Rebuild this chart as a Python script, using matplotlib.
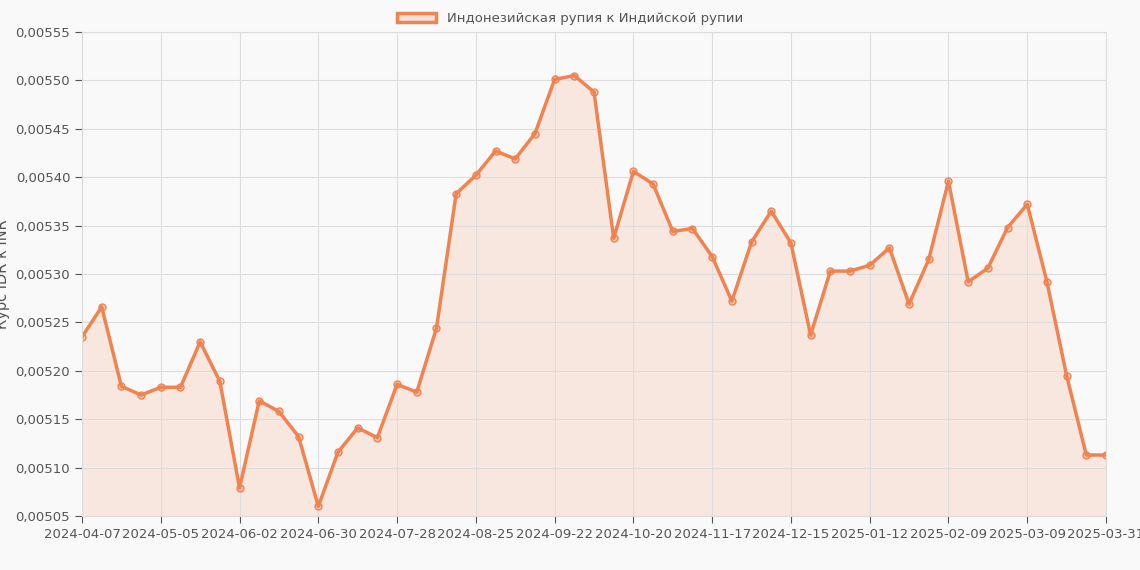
import matplotlib
matplotlib.use("Agg")
import matplotlib.pyplot as plt
from matplotlib.patches import Patch
from matplotlib.ticker import FuncFormatter, MultipleLocator

values = [0.005235, 0.005266, 0.005184, 0.005175, 0.005183, 0.005183, 0.005230, 0.005189,
          0.005079, 0.005169, 0.005158, 0.005132, 0.005060, 0.005116, 0.005141, 0.005131,
          0.005186, 0.005178, 0.005244, 0.005383, 0.005402, 0.005427, 0.005419, 0.005445,
          0.005501, 0.005505, 0.005488, 0.005337, 0.005406, 0.005393, 0.005344, 0.005347,
          0.005318, 0.005272, 0.005333, 0.005365, 0.005332, 0.005237, 0.005303, 0.005303,
          0.005309, 0.005327, 0.005269, 0.005315, 0.005396, 0.005292, 0.005306, 0.005348,
          0.005372, 0.005292, 0.005195, 0.005113, 0.005113]
tick_pos = [0, 4, 8, 12, 16, 20, 24, 28, 32, 36, 40, 44, 48, 52]
tick_labels = ["2024-04-07", "2024-05-05", "2024-06-02", "2024-06-30", "2024-07-28",
               "2024-08-25", "2024-09-22", "2024-10-20", "2024-11-17", "2024-12-15",
               "2025-01-12", "2025-02-09", "2025-03-09", "2025-03-31"]
label = "Индонезийская рупия к Индийской рупии"
color = "#f0834f"
bg = "#f9f9f9"

fig = plt.figure(figsize=(11.4, 5.7), dpi=100, facecolor=bg)
ax = fig.add_axes([82/1140, 1-516/570, (1106-82)/1140, (516-32)/570], facecolor=bg)
x = list(range(len(values)))
ax.fill_between(x, values, 0.00505, color=color, alpha=0.15, lw=0)
ax.plot(x, values, color=color, lw=2.5, marker="o", ms=5, mfc=(0.94, 0.51, 0.31, 0.35), mec=color, mew=1)
ax.set_xlim(0, len(values)-1)
ax.set_ylim(0.00505, 0.00555)
ax.yaxis.set_major_locator(MultipleLocator(0.00005))
ax.yaxis.set_major_formatter(FuncFormatter(lambda v, p: f"{v:.5f}".replace(".", ",")))
ax.set_xticks(tick_pos)
ax.set_xticklabels(tick_labels)
ax.grid(True, color="#dddddd", lw=0.8)
ax.tick_params(colors="#555555", labelsize=9.5, length=5)
for s in ax.spines.values():
    s.set_color("#dddddd")
ax.set_ylabel("Курс IDR к INR", color="#555555", fontsize=10.5)
fig.legend(handles=[Patch(facecolor=(0.94, 0.51, 0.31, 0.2), edgecolor=color, lw=2.5)],
           labels=[label], loc="upper center", bbox_to_anchor=(0.5, 1.0), frameon=False,
           fontsize=9.5, labelcolor="#555555", handlelength=3)
fig.savefig("out.png", dpi=100, facecolor=bg)
